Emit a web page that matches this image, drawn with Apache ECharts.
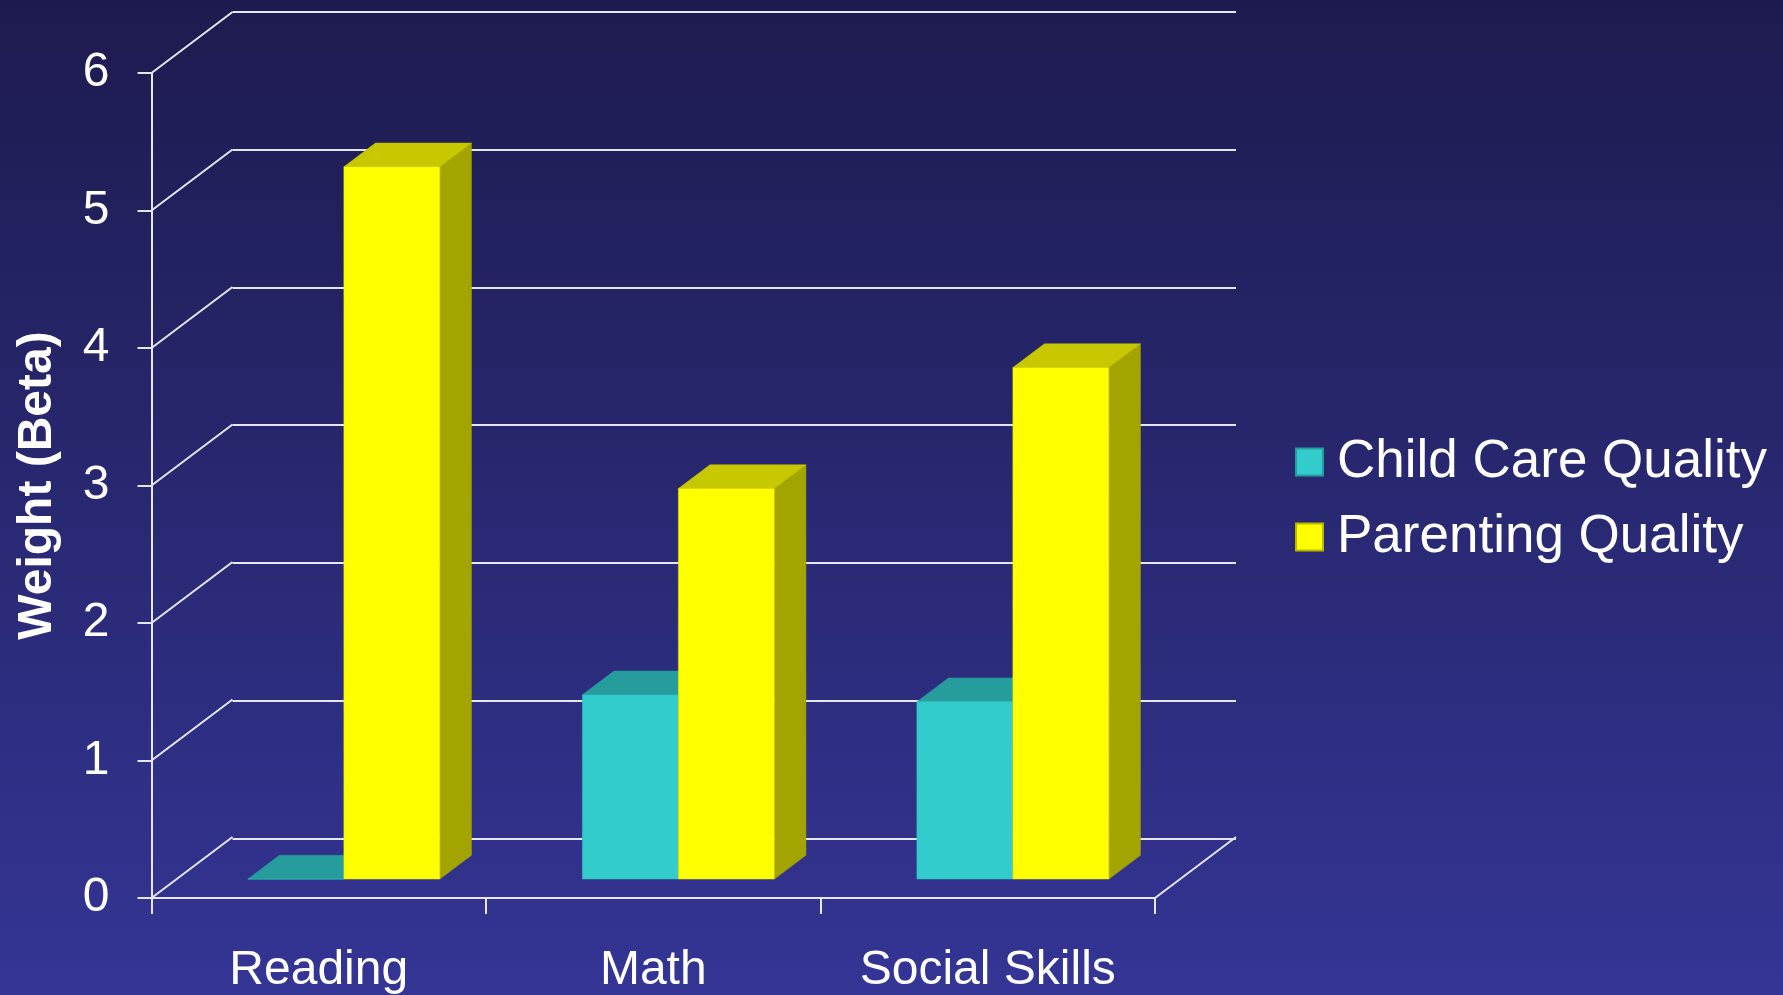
<!DOCTYPE html>
<html>
<head>
<meta charset="utf-8">
<title>Weight (Beta)</title>
<script src="https://cdn.jsdelivr.net/npm/echarts@6/dist/echarts.min.js"></script>
<style>
  html, body { margin: 0; padding: 0; }
  #chart { width: 1783px; height: 995px; }
</style>
</head>
<body>
<div id="chart"></div>
<script>
// data
const categories = ['Reading', 'Math', 'Social Skills'];
const childCare = [0, 1.34, 1.29];
const parenting = [5.18, 2.84, 3.72];
const yTicks = [0, 1, 2, 3, 4, 5, 6];
const seriesNames = ['Child Care Quality', 'Parenting Quality'];

// fake 3d: floor depth in pixels, bar sits in the middle of it
const DEPTH_DX = 81;
const DEPTH_DY = -61;
const FRONT_POS = 0.31;
const BAR_DEPTH = 0.39;
const BAR_FRAC = 0.287;

const font = 'Liberation Sans, Arial, sans-serif';
const lineColor = '#e6e6f0';

const chart = echarts.init(document.getElementById('chart'));

function barRenderer(side, faces) {
  return function (params, api) {
    const i = api.value(0);
    const v = api.value(1);
    const base = api.coord([i, 0]);
    const top = api.coord([i, v]);
    const w = api.size([1, 0])[0] * BAR_FRAC;
    const fdx = DEPTH_DX * FRONT_POS, fdy = DEPTH_DY * FRONT_POS;
    const dx = DEPTH_DX * BAR_DEPTH, dy = DEPTH_DY * BAR_DEPTH;
    const cx = base[0] + fdx;
    const x0 = side === 0 ? cx - w : cx;
    const x1 = x0 + w;
    const yb = base[1] + fdy;
    const yt = top[1] + fdy;
    return {
      type: 'group',
      children: [
        {
          type: 'polygon',
          shape: { points: [[x1, yt], [x1 + dx, yt + dy], [x1 + dx, yb + dy], [x1, yb]] },
          style: { fill: faces.side, stroke: faces.side, lineWidth: 0.5 }
        },
        {
          type: 'polygon',
          shape: { points: [[x0, yt], [x0 + dx, yt + dy], [x1 + dx, yt + dy], [x1, yt]] },
          style: { fill: faces.top, stroke: faces.top, lineWidth: 0.5 }
        },
        {
          type: 'rect',
          shape: { x: x0, y: yt, width: w, height: yb - yt },
          style: { fill: faces.front, stroke: faces.edge, lineWidth: 0.5 }
        }
      ]
    };
  };
}

// diagonal lines joining the front axis to the back wall
function wallRenderer(params, api) {
  const v = api.value(0);
  const cs = params.coordSys;
  const y = api.coord([0, v])[1];
  const lines = [{
    type: 'line',
    shape: { x1: cs.x, y1: y, x2: cs.x + DEPTH_DX, y2: y + DEPTH_DY },
    style: { stroke: lineColor, lineWidth: 2 }
  }];
  if (v === 0) {
    lines.push({
      type: 'line',
      shape: { x1: cs.x + cs.width, y1: y, x2: cs.x + cs.width + DEPTH_DX, y2: y + DEPTH_DY },
      style: { stroke: lineColor, lineWidth: 2 }
    });
  }
  return { type: 'group', children: lines };
}

const option = {
  backgroundColor: new echarts.graphic.LinearGradient(0, 0, 0, 1, [
    { offset: 0, color: '#1d1b4e' },
    { offset: 1, color: '#343595' }
  ]),
  animation: false,
  textStyle: { fontFamily: font },
  grid: [
    { left: 151.5, right: 628, top: 73, bottom: 95.7 },
    { left: 151.5 + DEPTH_DX, right: 628 - DEPTH_DX, top: 73 + DEPTH_DY, bottom: 95.7 - DEPTH_DY }
  ],
  legend: {
    orient: 'vertical',
    left: 1290,
    top: 429,
    icon: 'rect',
    itemWidth: 27,
    itemHeight: 27,
    itemGap: 19,
    data: seriesNames,
    textStyle: { color: '#ffffff', fontSize: 53, fontFamily: font, lineHeight: 56, padding: [0, 0, 0, 9] }
  },
  xAxis: [
    {
      type: 'category',
      gridIndex: 0,
      data: categories,
      axisLine: { show: true, lineStyle: { color: lineColor, width: 2 } },
      axisTick: { show: true, length: 16, lineStyle: { color: lineColor, width: 2 } },
      axisLabel: { color: '#ffffff', fontSize: 48, margin: 49, fontFamily: font },
      splitLine: { show: false }
    },
    {
      type: 'category',
      gridIndex: 1,
      data: categories,
      show: false
    }
  ],
  yAxis: [
    {
      type: 'value',
      gridIndex: 0,
      min: yTicks[0],
      max: yTicks[yTicks.length - 1],
      interval: 1,
      name: 'Weight (Beta)',
      nameLocation: 'middle',
      nameRotate: 90,
      nameGap: 90,
      nameTextStyle: { color: '#ffffff', fontSize: 48, fontWeight: 'bold', fontFamily: font },
      axisLine: { show: true, lineStyle: { color: lineColor, width: 2 } },
      axisTick: { show: true, length: 14, lineStyle: { color: lineColor, width: 2 } },
      axisLabel: { color: '#ffffff', fontSize: 48, margin: 42, fontFamily: font, padding: [7, 0, 0, 0] },
      splitLine: { show: false }
    },
    {
      type: 'value',
      gridIndex: 1,
      min: yTicks[0],
      max: yTicks[yTicks.length - 1],
      interval: 1,
      axisLine: { show: false },
      axisTick: { show: false },
      axisLabel: { show: false },
      splitLine: { show: true, lineStyle: { color: lineColor, width: 2 } }
    }
  ],
  series: [
    {
      type: 'custom',
      name: 'walls',
      xAxisIndex: 0,
      yAxisIndex: 0,
      z: 1,
      silent: true,
      renderItem: wallRenderer,
      encode: { y: 0 },
      data: yTicks.map(v => [v])
    },
    {
      type: 'custom',
      name: seriesNames[0],
      xAxisIndex: 0,
      yAxisIndex: 0,
      z: 3,
      itemStyle: { color: '#33cccc', borderColor: '#269c9c', borderWidth: 1 },
      renderItem: barRenderer(0, { front: '#33cccc', top: '#269c9c', side: '#1f8585', edge: '#2fbdbd' }),
      encode: { x: 0, y: 1 },
      data: childCare.map((v, i) => [i, v])
    },
    {
      type: 'custom',
      name: seriesNames[1],
      xAxisIndex: 0,
      yAxisIndex: 0,
      z: 3,
      itemStyle: { color: '#ffff00', borderColor: '#b8b800', borderWidth: 1 },
      renderItem: barRenderer(1, { front: '#ffff00', top: '#c8c800', side: '#a4a400', edge: '#e0e000' }),
      encode: { x: 0, y: 1 },
      data: parenting.map((v, i) => [i, v])
    }
  ]
};

chart.setOption(option);
</script>
</body>
</html>
